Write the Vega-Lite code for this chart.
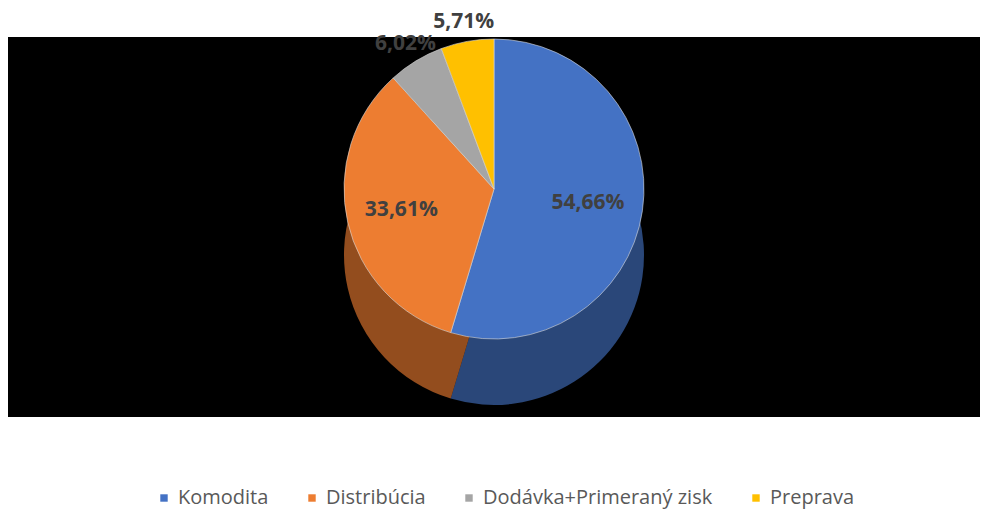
{
  "$schema": "https://vega.github.io/schema/vega-lite/v6.json",
  "autosize": "none",
  "width": 972,
  "height": 380,
  "padding": {"left": 8, "top": 37, "right": 10, "bottom": 95},
  "background": "white",
  "view": {"fill": "black", "stroke": null},
  "config": {
    "font": "Open Sans"
  },
  "data": {
    "values": [
      {"kategoria": "Komodita", "podiel": 54.66, "poradie": 1, "label": "54,66%"},
      {"kategoria": "Distribúcia", "podiel": 33.61, "poradie": 2, "label": "33,61%"},
      {"kategoria": "Dodávka+Primeraný zisk", "podiel": 6.02, "poradie": 3, "label": "6,02%"},
      {"kategoria": "Preprava", "podiel": 5.71, "poradie": 4, "label": "5,71%"}
    ]
  },
  "encoding": {
    "theta": {"field": "podiel", "type": "quantitative", "stack": true},
    "order": {"field": "poradie", "type": "quantitative"},
    "color": {
      "field": "kategoria",
      "type": "nominal",
      "scale": {
        "domain": ["Komodita", "Distribúcia", "Dodávka+Primeraný zisk", "Preprava"],
        "range": ["#4472C4", "#ED7D31", "#A5A5A5", "#FFC000"]
      },
      "legend": {
        "title": null,
        "orient": "none",
        "legendX": 146,
        "legendY": 451,
        "direction": "horizontal",
        "symbolType": "square",
        "symbolSize": 55,
        "symbolStrokeWidth": 0,
        "symbolOpacity": 1,
        "labelFontSize": 20,
        "labelColor": "#595959",
        "labelFont": "Open Sans",
        "columnPadding": 33,
        "labelLimit": 400
      }
    }
  },
  "layer": [
    {
      "mark": {"type": "arc", "radius": 150, "yOffset": 28, "opacity": 0.62}
    },
    {
      "mark": {"type": "arc", "radius": 150, "yOffset": -38, "stroke": "#d9d9d9", "strokeWidth": 0.6}
    },
    {
      "mark": {"type": "text", "radius": {"expr": "datum.podiel > 10 ? 95 : 170"}, "yOffset": -38, "fontSize": 21, "fontWeight": "bold", "font": "Open Sans"},
      "encoding": {"text": {"field": "label"}, "color": {"value": "#404040"}}
    }
  ]
}
